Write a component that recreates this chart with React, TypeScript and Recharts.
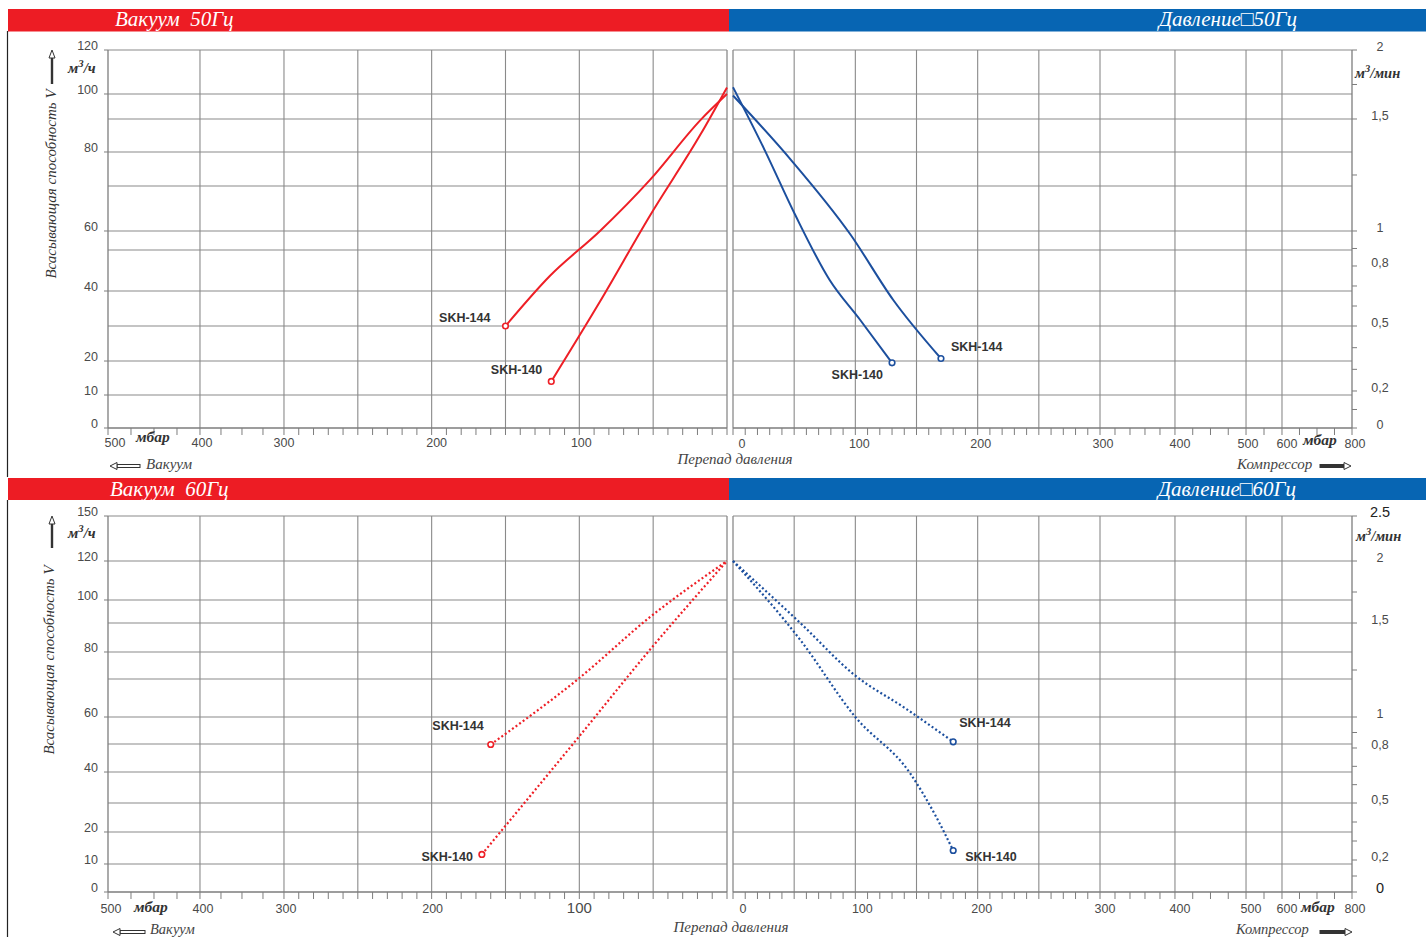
import React from 'react';
import { LineChart, Line, XAxis, YAxis, ReferenceLine } from 'recharts';

type Anchor = [number, number];

// ---------- tick labels ----------
const VAC_LABELS = [500, 400, 300, 200, 100];
const PRESS_LABELS = [0, 100, 200, 300, 400, 500, 600, 800];
const FLOW50_LABELS = [0, 10, 20, 40, 60, 80, 100, 120];
const FLOW60_LABELS = [0, 10, 20, 40, 60, 80, 100, 120, 150];
const MIN50_LABELS = [0, 0.2, 0.5, 0.8, 1, 1.5, 2];
const MIN50_TEXT = ['0', '0,2', '0,5', '0,8', '1', '1,5', '2'];
const MIN60_LABELS = [0, 0.2, 0.5, 0.8, 1, 1.5, 2, 2.5];
const MIN60_TEXT = ['0', '0,2', '0,5', '0,8', '1', '1,5', '2', '2.5'];
const MIN_MINOR = [0.1, 0.3, 0.4, 0.6, 0.7, 0.9, 1.25, 1.75];

// ---------- grid values (mbar) ----------
const VAC_GRID = [400, 300, 250, 200, 150, 100, 50];
const PRESS_GRID = [50, 100, 150, 200, 250, 300, 400, 500, 600];

// ---------- series: Vacuum 50 Hz (mbar, m3/h) ----------
const V50_144_MBAR = [0, 18, 52, 86, 120, 150];
const V50_144_FLOW = [100, 91, 73, 60, 45, 30];
const V50_140_MBAR = [0, 18, 52, 86, 119];
const V50_140_FLOW = [103, 86, 64, 37, 14];
// ---------- series: Pressure 50 Hz (mbar, m3/min) ----------
const P50_144_MBAR = [0, 47, 96, 131, 170];
const P50_144_FLOW = [1.67, 1.32, 0.98, 0.63, 0.35];
const P50_140_MBAR = [0, 26, 51, 79, 104, 130];
const P50_140_FLOW = [1.73, 1.36, 1.07, 0.73, 0.53, 0.33];
// ---------- series: Vacuum 60 Hz (mbar, m3/h) ----------
const V60_144_MBAR = [0, 52, 100, 160];
const V60_144_FLOW = [120, 93.5, 72, 50];
const V60_140_MBAR = [0, 52, 100, 166];
const V60_140_FLOW = [120, 81, 53, 13];
// ---------- series: Pressure 60 Hz (mbar, m3/min) ----------
const P60_144_MBAR = [0, 55, 100, 140, 180];
const P60_144_FLOW = [2.0, 1.5, 1.22, 1.05, 0.84];
const P60_140_MBAR = [0, 55, 100, 145, 165, 180];
const P60_140_FLOW = [2.0, 1.41, 1.0, 0.66, 0.44, 0.25];

// ---------- non-linear axis definitions (value -> share of axis length) ----------
const VAC_SCALE: Anchor[] = [[0, 1], [300, 0.2843], [400, 0.1486], [500, 0]];
const PRESS_SCALE: Anchor[] = [[0, 0], [300, 0.5929], [400, 0.714], [500, 0.8288], [600, 0.8869], [800, 1]];
const FLOW50_SCALE: Anchor[] = [[0, 0], [10, 0.0873], [20, 0.1772], [40, 0.3624], [60, 0.5212], [80, 0.7302], [100, 0.8836], [120, 1]];
const MIN50_SCALE: Anchor[] = [[0, 0], [0.2, 0.0979], [0.5, 0.2698], [0.8, 0.4286], [1, 0.5212], [1.5, 0.8175], [2, 1]];
const FLOW60_SCALE: Anchor[] = [[0, 0], [10, 0.0745], [20, 0.1596], [40, 0.3191], [60, 0.4654], [80, 0.6383], [100, 0.7766], [120, 0.8803], [150, 1]];
const MIN60_SCALE: Anchor[] = [[0, 0], [0.2, 0.0851], [0.5, 0.2367], [0.8, 0.383], [1, 0.4654], [1.5, 0.7154], [2, 0.8803], [2.5, 1]];

// horizontal grid lines (share of plot height)
const ROW1_HGRID = [0.8836, 0.8175, 0.7302, 0.6402, 0.5212, 0.4709, 0.3624, 0.2698, 0.1772, 0.0873];
const ROW2_HGRID = [0.8803, 0.7766, 0.7154, 0.6383, 0.5665, 0.4654, 0.3936, 0.3191, 0.2367, 0.1596, 0.0745];

// ---------- styles ----------
const RED = '#ed1c24';
const BLUE = '#0765b3';
const LINE_RED = '#ee1f26';
const LINE_BLUE = '#1c4f9e';
const GRID = '#8a8a8a';
const AXIS = '#7d7d7d';
const SERIF = "'Liberation Serif', 'DejaVu Serif', serif";
const SANS = "'Liberation Sans', Arial, sans-serif";
const TXT = '#4a4a4a';

const range = (a: number, b: number, s: number) => {
  const r: number[] = [];
  for (let v = a; v <= b + 1e-9; v += s) r.push(v);
  return r;
};
const VAC_MINOR = [...range(0, 300, 10), ...range(325, 500, 25)];
const PRESS_MINOR = [...range(0, 300, 10), 320, 340, 360, 380, 400, 425, 450, 475, 500, 550, 600, 650, 700, 750, 800];

const pw = (anchors: Anchor[]) => {
  const a = [...anchors].sort((p, q) => p[0] - q[0]);
  return (v: number) => {
    let i = 0;
    while (i < a.length - 2 && v > a[i + 1][0]) i++;
    const [v0, f0] = a[i];
    const [v1, f1] = a[i + 1];
    return f0 + ((v - v0) / (v1 - v0)) * (f1 - f0);
  };
};

const fVac = pw(VAC_SCALE);
const fPress = pw(PRESS_SCALE);
const fFlow50 = pw(FLOW50_SCALE);
const fMin50 = pw(MIN50_SCALE);
const fFlow60 = pw(FLOW60_SCALE);
const fMin60 = pw(MIN60_SCALE);

type Pt = { x: number; y: number; end: boolean };
const series = (mbar: number[], flow: number[], fx: (v: number) => number, fy: (v: number) => number): Pt[] => {
  const last = mbar.length - 1;
  return mbar
    .map((m, i) => ({ x: fx(m), y: fy(flow[i]), end: i === last }))
    .sort((a, b) => a.x - b.x);
};

type TickDef = { f: number; text?: string; dx?: number; size?: number; color?: string };
type LineDef = {
  name: string;
  data: Pt[];
  color: string;
  dashed: boolean;
  lx: number;
  ly: number;
  anchor: 'start' | 'end';
};

type PanelProps = {
  width: number;
  height: number;
  margin: { top: number; right: number; left: number; bottom: number };
  ySide: 'left' | 'right';
  yWidth: number;
  xHeight: number;
  xTicks: TickDef[];
  yTicks: TickDef[];
  xLabelDy: number;
  vGrid: number[];
  hGrid: number[];
  borderX: number;
  lines: LineDef[];
};

const findTick = (ticks: TickDef[], v: number) => ticks.find((t) => Math.abs(t.f - v) < 1e-9);

function Panel(p: PanelProps) {
  const xTick = (props: any) => {
    const { x, y, payload } = props;
    const t = findTick(p.xTicks, payload.value);
    if (!t || !t.text) return <g />;
    return (
      <text x={x + (t.dx ?? 3)} y={y + p.xLabelDy} textAnchor="middle" fontSize={t.size ?? 12.5} fill={t.color ?? TXT} fontFamily={SANS}>
        {t.text}
      </text>
    );
  };
  const yTick = (props: any) => {
    const { x, y, payload } = props;
    const t = findTick(p.yTicks, payload.value);
    if (!t || !t.text) return <g />;
    if (p.ySide === 'left') {
      return (
        <text x={x - 4} y={y} textAnchor="end" fontSize={t.size ?? 12.5} fill={t.color ?? TXT} fontFamily={SANS}>
          {t.text}
        </text>
      );
    }
    return (
      <text x={x + 21} y={y + 1} textAnchor="middle" fontSize={t.size ?? 12.5} fill={t.color ?? TXT} fontFamily={SANS}>
        {t.text}
      </text>
    );
  };
  const dot = (l: LineDef) => (props: any) => {
    const { cx, cy, payload, index } = props;
    if (!payload || !payload.end) return <g key={`d${index}`} />;
    return (
      <g key={`d${index}`}>
        <circle cx={cx} cy={cy} r={2.8} fill="#fff" stroke={l.color} strokeWidth={1.6} />
        <text x={cx + l.lx} y={cy + l.ly} textAnchor={l.anchor} fontSize={12.5} fontWeight="bold" fill="#333" fontFamily={SANS}>
          {l.name}
        </text>
      </g>
    );
  };
  return (
    <LineChart width={p.width} height={p.height} margin={p.margin}>
      {p.hGrid.map((f) => (
        <ReferenceLine key={`h${f}`} y={f} stroke={GRID} strokeWidth={1.1} />
      ))}
      {p.vGrid.map((f) => (
        <ReferenceLine key={`v${f}`} x={f} stroke={GRID} strokeWidth={1.1} />
      ))}
      <ReferenceLine y={1} stroke={GRID} strokeWidth={1.1} />
      <ReferenceLine x={p.borderX} stroke={GRID} strokeWidth={1.3} />
      <XAxis
        type="number"
        dataKey="x"
        domain={[0, 1]}
        ticks={p.xTicks.map((t) => t.f)}
        interval={0}
        tick={xTick}
        tickSize={7}
        tickMargin={2}
        tickLine={{ stroke: AXIS }}
        axisLine={{ stroke: AXIS, strokeWidth: 1.3 }}
        height={p.xHeight}
      />
      <YAxis
        type="number"
        domain={[0, 1]}
        orientation={p.ySide}
        width={p.yWidth}
        ticks={p.yTicks.map((t) => t.f)}
        interval={0}
        tick={yTick}
        tickSize={p.ySide === 'left' ? 4 : 5}
        tickMargin={2}
        tickLine={{ stroke: AXIS }}
        axisLine={{ stroke: AXIS, strokeWidth: 1.3 }}
      />
      {p.lines.map((l) => (
        <Line
          key={l.name}
          data={l.data}
          dataKey="y"
          type="monotone"
          stroke={l.color}
          strokeWidth={l.dashed ? 2.2 : 2}
          strokeDasharray={l.dashed ? '2 2.4' : undefined}
          isAnimationActive={false}
          dot={dot(l)}
          activeDot={false}
        />
      ))}
    </LineChart>
  );
}

// ---------- tick builders ----------
const vacTicks = (dx: number[], sizes: number[]): TickDef[] =>
  VAC_MINOR.map((v) => {
    const i = VAC_LABELS.indexOf(v);
    return i >= 0 ? { f: fVac(v), text: String(v), dx: dx[i], size: sizes[i] } : { f: fVac(v) };
  });
const pressTicks = (dx: number[]): TickDef[] =>
  PRESS_MINOR.map((v) => {
    const i = PRESS_LABELS.indexOf(v);
    return i >= 0 ? { f: fPress(v), text: String(v), dx: dx[i] } : { f: fPress(v) };
  });
const flowTicks = (labels: number[], f: (v: number) => number): TickDef[] => labels.map((v) => ({ f: f(v), text: String(v) }));
const minTicks = (labels: number[], texts: string[], f: (v: number) => number, max: number, sizes: number[]): TickDef[] => [
  ...labels.map((v, i) => ({ f: f(v), text: texts[i], size: sizes[i], color: sizes[i] > 13 ? '#222' : TXT })),
  ...MIN_MINOR.filter((v) => v < max).map((v) => ({ f: f(v) })),
];

const ROW1 = { top: 31, height: 446, mTop: 19, xH: 49 };
const ROW2 = { top: 500, height: 437, mTop: 16, xH: 45 };

function Arrow({ x1, x2, y, dir }: { x1: number; x2: number; y: number; dir: 'left' | 'right' }) {
  const head = 7;
  if (dir === 'left') {
    return (
      <g>
        <rect x={x1 + head} y={y - 1.5} width={x2 - x1 - head} height={3} fill="#fff" stroke="#333" strokeWidth={1} />
        <polygon points={`${x1},${y} ${x1 + head},${y - 3.5} ${x1 + head},${y + 3.5}`} fill="#fff" stroke="#333" strokeWidth={1} />
      </g>
    );
  }
  return (
    <g>
      <rect x={x1} y={y - 1.5} width={x2 - x1 - head} height={3} fill="#333" stroke="#333" strokeWidth={1} />
      <polygon points={`${x2},${y} ${x2 - head},${y - 3.5} ${x2 - head},${y + 3.5}`} fill="#fff" stroke="#333" strokeWidth={1} />
    </g>
  );
}

function UpArrow({ x, y1, y2 }: { x: number; y1: number; y2: number }) {
  return (
    <g>
      <rect x={x - 1.2} y={y1 + 8} width={2.4} height={y2 - y1 - 8} fill="#333" />
      <polygon points={`${x},${y1} ${x - 3},${y1 + 8} ${x + 3},${y1 + 8}`} fill="#fff" stroke="#333" strokeWidth={1} />
    </g>
  );
}

function Unit({ x, y, base, tail, size }: { x: number; y: number; base: string; tail: string; size: number }) {
  return (
    <text x={x} y={y} fontSize={size} fontWeight="bold" fill="#333" fontFamily={SERIF} fontStyle="italic">
      {base}
      <tspan fontSize={size * 0.72} dy={-size * 0.38}>3</tspan>
      <tspan dy={size * 0.38}>{tail}</tspan>
    </text>
  );
}

function Overlay() {
  const it = { fontFamily: SERIF, fontStyle: 'italic' as const };
  return (
    <svg width={1426} height={937} style={{ position: 'absolute', left: 0, top: 0, pointerEvents: 'none' }}>
      {/* headers */}
      <rect x={8} y={9} width={721} height={22.5} fill={RED} />
      <rect x={729} y={9} width={697} height={22.5} fill={BLUE} />
      <rect x={8} y={478} width={721} height={22} fill={RED} />
      <rect x={729} y={478} width={697} height={22} fill={BLUE} />
      <text x={115} y={26} fill="#fff" fontSize={21} {...it} style={{ whiteSpace: 'pre' }}>Вакуум  50Гц</text>
      <text x={1297} y={25.5} fill="#fff" fontSize={21} textAnchor="end" {...it}>Давление□50Гц</text>
      <text x={110} y={496} fill="#fff" fontSize={21} {...it} style={{ whiteSpace: 'pre' }}>Вакуум  60Гц</text>
      <text x={1296} y={496} fill="#fff" fontSize={21} textAnchor="end" {...it}>Давление□60Гц</text>

      {/* left frame */}
      <line x1={7.5} y1={31} x2={7.5} y2={477} stroke="#222" strokeWidth={1.2} />
      <line x1={7.5} y1={500} x2={7.5} y2={937} stroke="#222" strokeWidth={1.2} />

      {/* row 1 annotations */}
      <UpArrow x={52} y1={50} y2={84} />
      <text x={56} y={184} fontSize={15} fill="#333" textAnchor="middle" transform="rotate(-90 56 184)" {...it}>Всасывающая способность V</text>
      <Unit x={68} y={73} base="м" tail="/ч" size={15} />
      <text x={136} y={442} fontSize={15.5} fontWeight="bold" fill="#333" {...it}>мбар</text>
      <Arrow x1={110} x2={140} y={466} dir="left" />
      <text x={146} y={469} fontSize={15} fill="#444" {...it}>Вакуум</text>
      <text x={735} y={464} fontSize={15} fill="#444" textAnchor="middle" {...it}>Перепад давления</text>
      <text x={1237} y={469} fontSize={15} fill="#444" {...it}>Компрессор</text>
      <Arrow x1={1320} x2={1351} y={466} dir="right" />
      <Unit x={1355} y={78} base="м" tail="/мин" size={14.5} />
      <text x={1303} y={445} fontSize={15.5} fontWeight="bold" fill="#333" {...it}>мбар</text>

      {/* row 2 annotations */}
      <UpArrow x={52} y1={516} y2={548} />
      <text x={54} y={660} fontSize={15} fill="#333" textAnchor="middle" transform="rotate(-90 54 660)" {...it}>Всасывающая способность V</text>
      <Unit x={68} y={538} base="м" tail="/ч" size={15} />
      <text x={134} y={912} fontSize={15.5} fontWeight="bold" fill="#333" {...it}>мбар</text>
      <Arrow x1={113} x2={145} y={932} dir="left" />
      <text x={150} y={934} fontSize={14.5} fill="#444" {...it}>Вакуум</text>
      <text x={731} y={932} fontSize={15} fill="#444" textAnchor="middle" {...it}>Перепад давления</text>
      <text x={1236} y={934} fontSize={14.5} fill="#444" {...it}>Компрессор</text>
      <Arrow x1={1320} x2={1352} y={932} dir="right" />
      <Unit x={1356} y={541} base="м" tail="/мин" size={14.5} />
      <text x={1301} y={912} fontSize={15.5} fontWeight="bold" fill="#333" {...it}>мбар</text>
    </svg>
  );
}

export default function App() {
  const v50: LineDef[] = [
    { name: 'SKH-144', data: series(V50_144_MBAR, V50_144_FLOW, fVac, fFlow50), color: LINE_RED, dashed: false, lx: -15, ly: -4, anchor: 'end' },
    { name: 'SKH-140', data: series(V50_140_MBAR, V50_140_FLOW, fVac, fFlow50), color: LINE_RED, dashed: false, lx: -9, ly: -7, anchor: 'end' },
  ];
  const p50: LineDef[] = [
    { name: 'SKH-144', data: series(P50_144_MBAR, P50_144_FLOW, fPress, fMin50), color: LINE_BLUE, dashed: false, lx: 10, ly: -8, anchor: 'start' },
    { name: 'SKH-140', data: series(P50_140_MBAR, P50_140_FLOW, fPress, fMin50), color: LINE_BLUE, dashed: false, lx: -9, ly: 16, anchor: 'end' },
  ];
  const v60: LineDef[] = [
    { name: 'SKH-144', data: series(V60_144_MBAR, V60_144_FLOW, fVac, fFlow60), color: LINE_RED, dashed: true, lx: -7, ly: -15, anchor: 'end' },
    { name: 'SKH-140', data: series(V60_140_MBAR, V60_140_FLOW, fVac, fFlow60), color: LINE_RED, dashed: true, lx: -9, ly: 7, anchor: 'end' },
  ];
  const p60: LineDef[] = [
    { name: 'SKH-144', data: series(P60_144_MBAR, P60_144_FLOW, fPress, fMin60), color: LINE_BLUE, dashed: true, lx: 6, ly: -15, anchor: 'start' },
    { name: 'SKH-140', data: series(P60_140_MBAR, P60_140_FLOW, fPress, fMin60), color: LINE_BLUE, dashed: true, lx: 12, ly: 10, anchor: 'start' },
  ];

  return (
    <div style={{ position: 'absolute', left: 0, top: 0, width: 1426, height: 937, background: '#fff', overflow: 'hidden' }}>
      <div style={{ position: 'absolute', left: 0, top: ROW1.top }}>
        <Panel
          width={729}
          height={ROW1.height}
          margin={{ top: ROW1.mTop, right: 2, left: 0, bottom: 0 }}
          ySide="left"
          yWidth={108}
          xHeight={ROW1.xH}
          xTicks={vacTicks([7, 2, 0, 5, 2], [12.5, 12.5, 12.5, 12.5, 12.5])}
          yTicks={flowTicks(FLOW50_LABELS, fFlow50)}
          xLabelDy={10}
          vGrid={VAC_GRID.map(fVac)}
          hGrid={ROW1_HGRID}
          borderX={1}
          lines={v50}
        />
      </div>
      <div style={{ position: 'absolute', left: 729, top: ROW1.top }}>
        <Panel
          width={697}
          height={ROW1.height}
          margin={{ top: ROW1.mTop, right: 0, left: 4, bottom: 0 }}
          ySide="right"
          yWidth={74}
          xHeight={ROW1.xH}
          xTicks={pressTicks([9, 4, 3, 3, 5, 2, 5, 3])}
          yTicks={minTicks(MIN50_LABELS, MIN50_TEXT, fMin50, 2, [12.5, 12.5, 12.5, 12.5, 12.5, 12.5, 12.5])}
          xLabelDy={11}
          vGrid={PRESS_GRID.map(fPress)}
          hGrid={ROW1_HGRID}
          borderX={0}
          lines={p50}
        />
      </div>
      <div style={{ position: 'absolute', left: 0, top: ROW2.top }}>
        <Panel
          width={729}
          height={ROW2.height}
          margin={{ top: ROW2.mTop, right: 2, left: 0, bottom: 0 }}
          ySide="left"
          yWidth={108}
          xHeight={ROW2.xH}
          xTicks={vacTicks([3, 3, 2, 1, 0], [12.5, 12.5, 12.5, 12.5, 15])}
          yTicks={flowTicks(FLOW60_LABELS, fFlow60)}
          xLabelDy={12}
          vGrid={VAC_GRID.map(fVac)}
          hGrid={ROW2_HGRID}
          borderX={1}
          lines={v60}
        />
      </div>
      <div style={{ position: 'absolute', left: 729, top: ROW2.top }}>
        <Panel
          width={697}
          height={ROW2.height}
          margin={{ top: ROW2.mTop, right: 0, left: 4, bottom: 0 }}
          ySide="right"
          yWidth={74}
          xHeight={ROW2.xH}
          xTicks={pressTicks([10, 7, 4, 5, 5, 5, 5, 3])}
          yTicks={minTicks(MIN60_LABELS, MIN60_TEXT, fMin60, 2.5, [14.5, 12.5, 12.5, 12.5, 12.5, 12.5, 12.5, 14.5])}
          xLabelDy={12}
          vGrid={PRESS_GRID.map(fPress)}
          hGrid={ROW2_HGRID}
          borderX={0}
          lines={p60}
        />
      </div>
      <Overlay />
    </div>
  );
}
